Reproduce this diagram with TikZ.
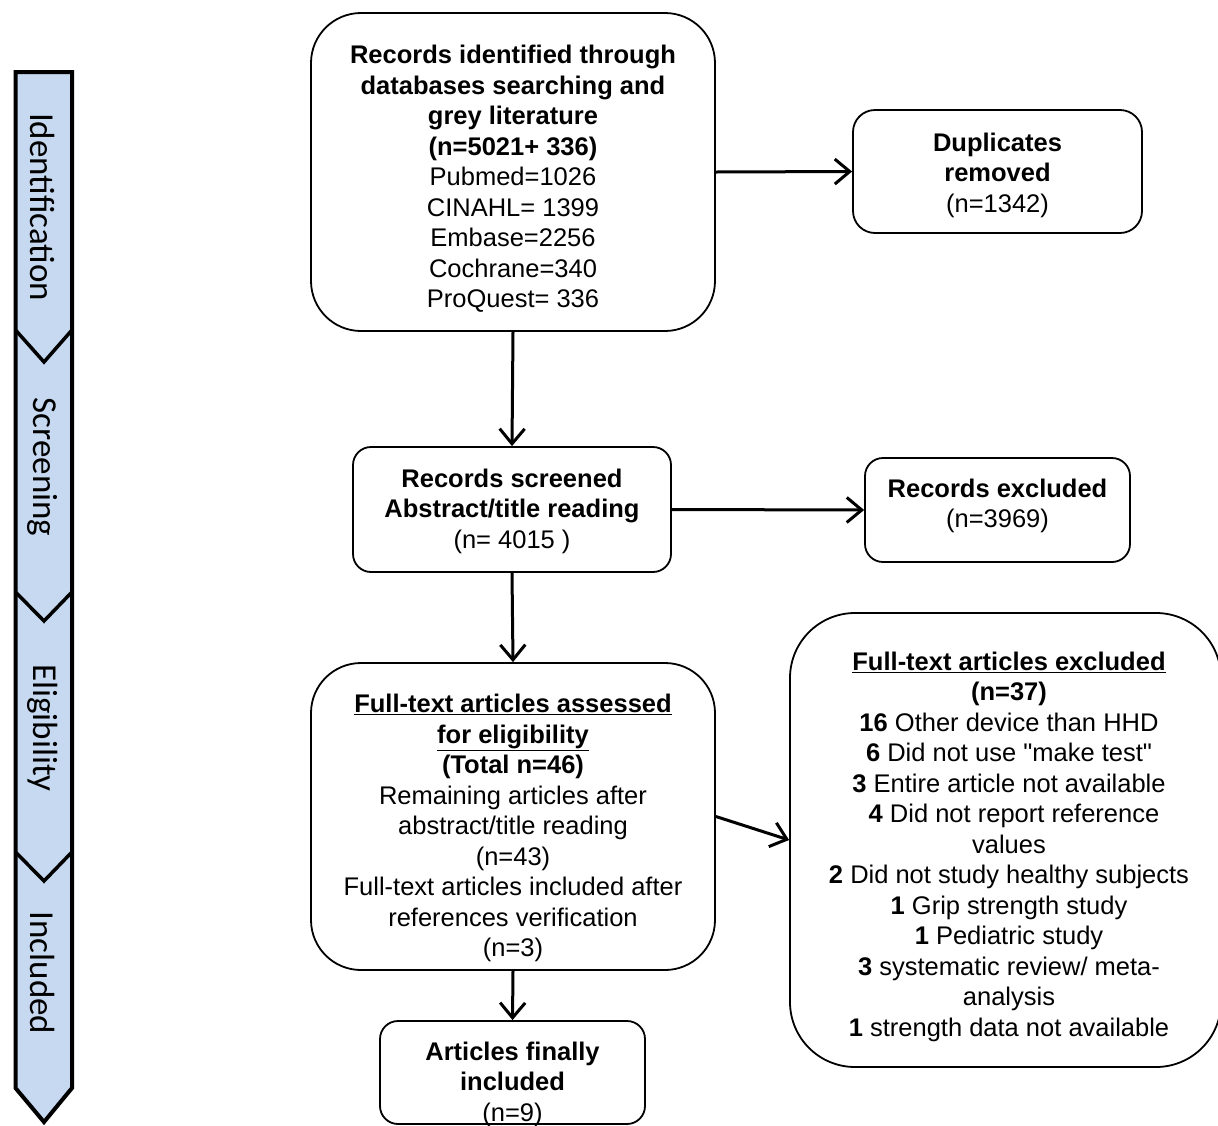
\documentclass[tikz,border=0pt]{standalone}
\usepackage{fontspec}
\setmainfont{Liberation Sans}[Ligatures=TeXOff]
\newfontfamily\barfont{Carlito}
\usetikzlibrary{arrows.meta}
\definecolor{barblue}{HTML}{C6D9F1}
\begin{document}
\begin{tikzpicture}[x=1pt,y=-1pt,
  box/.style={draw=black, line width=1.8pt, inner sep=0pt},
  txt/.style={align=center, inner sep=0pt, font=\fontsize{25.5}{30.5}\selectfont},
  bartxt/.style={rotate=-90, inner sep=0pt, font=\barfont\fontsize{35}{40}\selectfont},
  arr/.style={line width=3pt, -{Straight Barb[length=15pt,width=25pt,line width=3pt]}}
]
\useasboundingbox (0,0) rectangle (1218,1125);
% left phase bar
\draw[fill=barblue, line width=4pt, line join=miter] (15.5,72) -- (72,72) -- (72,1088) -- (44,1122) -- (15.5,1088) -- cycle;
\draw[line width=3.5pt] (15.5,330) -- (44,362) -- (72,330);
\draw[line width=3.5pt] (15.5,592) -- (44,621) -- (72,592);
\draw[line width=3.5pt] (15.5,852) -- (44,881) -- (72,852);
\node[bartxt] (b1) at (42.5,207) {Identification};
\node[bartxt] (b2) at (42.5,467) {Screening};
\node[bartxt] (b3) at (42.5,728) {Eligibility};
\node[bartxt] (b4) at (42.5,973) {Included};
% boxes
\node[box, rounded corners=50pt, minimum width=404pt, minimum height=318pt] (top) at (513,172) {};
\node[box, rounded corners=22pt, minimum width=289pt, minimum height=123pt] (dup) at (997.5,171.5) {};
\node[box, rounded corners=18pt, minimum width=318pt, minimum height=125pt] (scr) at (512,509.5) {};
\node[box, rounded corners=18pt, minimum width=265pt, minimum height=104pt] (rex) at (997.5,510) {};
\node[box, rounded corners=50pt, minimum width=404pt, minimum height=307pt] (ft) at (513,816.5) {};
\node[box, rounded corners=65pt, minimum width=431pt, minimum height=454pt] (ex) at (1005.5,840) {};
\node[box, rounded corners=18pt, minimum width=265pt, minimum height=103pt] (fin) at (512.5,1072.5) {};
% texts
\node[txt] (toptxt) at (513,179) {\textbf{Records identified through}\\\textbf{databases searching and}\\\textbf{grey literature}\\\textbf{(n=5021+ 336)}\\Pubmed=1026\\CINAHL= 1399\\Embase=2256\\Cochrane=340\\ProQuest= 336};
\node[txt] (duptxt) at (997.5,175) {\textbf{Duplicates}\\\textbf{removed}\\(n=1342)};
\node[txt] (scrtxt) at (512,511) {\textbf{Records screened}\\\textbf{Abstract/title reading}\\(n= 4015 )};
\node[txt] (rextxt) at (997.5,506) {\textbf{Records excluded}\\(n=3969)};
\node[txt] (fttxt) at (513,828) {\textbf{\underline{Full-text articles assessed}}\\\textbf{\underline{for eligibility}}\\\textbf{(Total n=46)}\\Remaining articles after\\abstract/title reading\\(n=43)\\Full-text articles included after\\references verification\\(n=3)};
\node[txt] (extxt) at (1009,846.5) {\textbf{\underline{Full-text articles excluded}}\\\textbf{(n=37)}\\\textbf{16} Other device than HHD\\\textbf{6} Did not use "make test"\\\textbf{3} Entire article not available\\\hspace{10pt}\textbf{4} Did not report reference\\values\\\textbf{2} Did not study healthy subjects\\\textbf{1} Grip strength study\\\textbf{1} Pediatric study\\\textbf{3} systematic review/ meta-\\analysis\\\textbf{1} strength data not available};
\node[txt] (fintxt) at (512.5,1084) {\textbf{Articles finally}\\\textbf{included}\\(n=9)};
% arrows
\draw[arr] (top.south) -- (scr.north);
\draw[arr] (top.east) -- (dup.west);
\draw[arr] (scr.east) -- (rex.west);
\draw[arr] (scr.south) -- (ft.north);
\draw[arr] (ft.east) -- (ex.west);
\draw[arr] (ft.south) -- (fin.north);
\end{tikzpicture}
\end{document}
